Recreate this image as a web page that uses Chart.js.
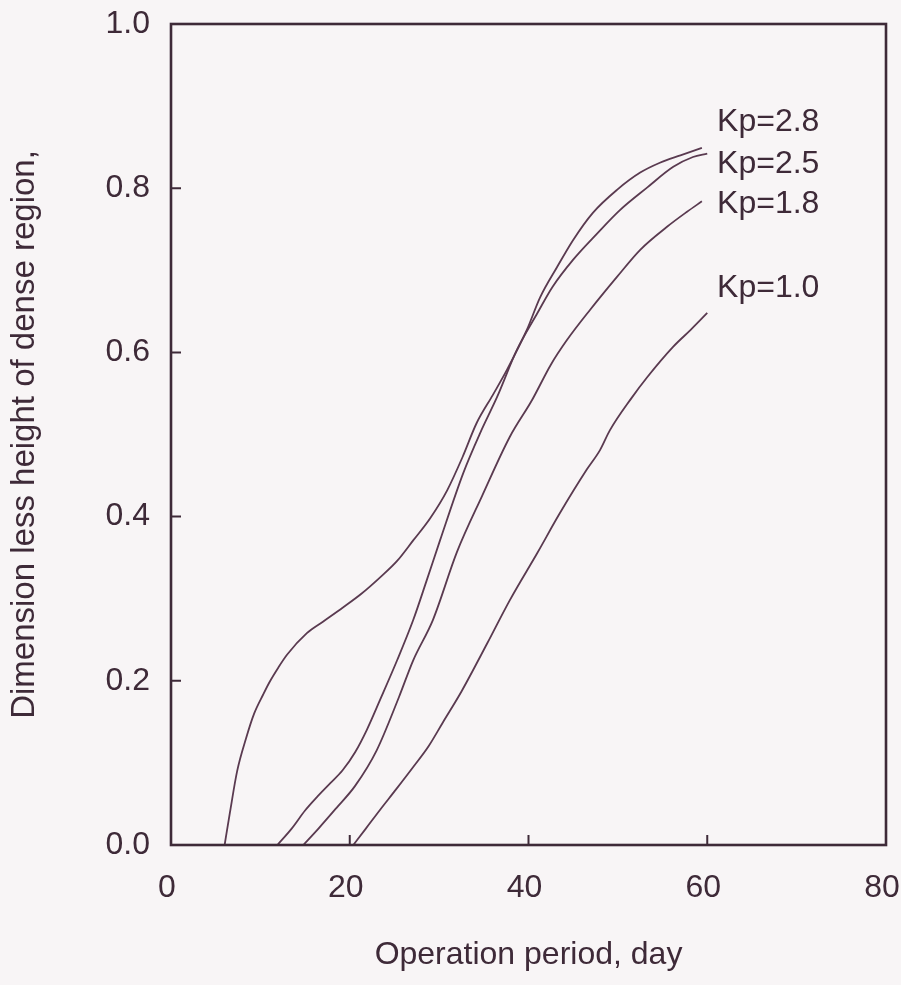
<!DOCTYPE html>
<html><head><meta charset="utf-8">
<script src="https://cdn.jsdelivr.net/npm/chart.js@4.4.1/dist/chart.umd.min.js"></script>
<style>
html,body{margin:0;padding:0;background:#f8f5f6;}
#wrap{width:901px;height:985px;position:relative;}
</style></head><body>
<div id="wrap"><canvas id="c" width="901" height="985"></canvas></div>
<script>
// ---- data ----
const seriesNames = ['Kp=2.8', 'Kp=2.5', 'Kp=1.8', 'Kp=1.0'];

const kp28Days   = [6.0, 6.6, 7.4, 8.4, 9.3, 10.3, 11.0, 12.0, 13.0, 15.2, 17.0, 19.2, 21.3, 23.4, 25.3, 27.1, 29.0, 30.9, 32.6, 34.2, 36.0, 37.6, 39.8, 41.3, 43.2, 45.0, 47.2, 49.9, 52.5, 54.7, 57.0, 59.4];
const kp28Height = [0, 0.04, 0.09, 0.13, 0.16, 0.183, 0.198, 0.216, 0.232, 0.258, 0.272, 0.289, 0.306, 0.326, 0.346, 0.371, 0.398, 0.432, 0.472, 0.514, 0.548, 0.579, 0.627, 0.667, 0.704, 0.737, 0.770, 0.798, 0.819, 0.831, 0.840, 0.849];

const kp25Days   = [11.9, 13.5, 15.0, 16.3, 17.8, 19.2, 20.6, 21.9, 23.4, 25.3, 27.1, 28.6, 30.1, 32.7, 34.6, 36.5, 38.7, 41.0, 42.7, 45.0, 47.7, 50.2, 53.3, 56.2, 58.4, 60.0];
const kp25Height = [0, 0.02, 0.042, 0.058, 0.075, 0.091, 0.113, 0.14, 0.177, 0.225, 0.274, 0.322, 0.371, 0.453, 0.502, 0.546, 0.603, 0.648, 0.680, 0.713, 0.745, 0.773, 0.801, 0.826, 0.838, 0.842];

const kp18Days   = [14.8, 16.5, 18.5, 20.6, 23.0, 25.5, 27.1, 29.3, 32.0, 34.8, 37.9, 40.4, 42.5, 44.3, 46.9, 49.9, 52.5, 55.5, 57.7, 59.4];
const kp18Height = [0, 0.02, 0.045, 0.072, 0.115, 0.18, 0.225, 0.274, 0.357, 0.425, 0.497, 0.542, 0.585, 0.615, 0.652, 0.692, 0.725, 0.753, 0.771, 0.784];

const kp10Days   = [20.4, 21.8, 23.4, 25.2, 27.1, 28.8, 30.4, 32.5, 35.4, 37.9, 41.0, 43.5, 46.5, 48.0, 49.1, 51.5, 53.3, 56.2, 58.2, 60.0];
const kp10Height = [0, 0.02, 0.043, 0.068, 0.095, 0.12, 0.149, 0.187, 0.246, 0.298, 0.356, 0.404, 0.457, 0.481, 0.505, 0.544, 0.570, 0.607, 0.628, 0.648];

const xTicks = [0, 20, 40, 60, 80];
const xTickLabels = ['0', '20', '40', '60', '80'];
const yTicks = [0, 0.2, 0.4, 0.6, 0.8, 1.0];
const yTickLabels = ['0.0', '0.2', '0.4', '0.6', '0.8', '1.0'];
const xTitle = 'Operation period, day';
const yTitle = 'Dimension less height of dense region,';

// ---- styling / layout ----
const INK = '#3e2a38';
const LINE = '#5a3a50';
const FONT = '"Liberation Sans", Arial, Helvetica, sans-serif';

const pts = (xs, ys) => xs.map((x, i) => ({x: x, y: ys[i]}));
const seriesX = [kp28Days, kp25Days, kp18Days, kp10Days];
const seriesY = [kp28Height, kp25Height, kp18Height, kp10Height];

const datasets = seriesNames.map((n, i) => ({
  label: n,
  data: pts(seriesX[i], seriesY[i]),
  borderColor: LINE,
  borderWidth: 1.8,
  pointRadius: 0,
  fill: false,
  showLine: true,
  cubicInterpolationMode: 'monotone'
}));

const bgPlugin = {
  id: 'bg',
  beforeDraw(chart) {
    const ctx = chart.ctx;
    ctx.save();
    ctx.fillStyle = '#f8f5f6';
    ctx.fillRect(0, 0, chart.width, chart.height);
    ctx.restore();
  }
};

const framePlugin = {
  id: 'frame',
  afterDatasetsDraw(chart) {
    const {ctx, chartArea: a, scales} = chart;
    ctx.save();
    ctx.strokeStyle = INK;
    ctx.lineWidth = 2.6;
    ctx.strokeRect(a.left, a.top, a.right - a.left, a.bottom - a.top);
    ctx.lineWidth = 2;
    const tl = 10;
    ctx.beginPath();
    xTicks.forEach(v => {
      const px = scales.x.getPixelForValue(v);
      if (px > a.left + 2 && px < a.right - 2) { ctx.moveTo(px, a.bottom); ctx.lineTo(px, a.bottom - tl); }
    });
    yTicks.forEach(v => {
      const py = scales.y.getPixelForValue(v);
      if (py > a.top + 2 && py < a.bottom - 2) { ctx.moveTo(a.left, py); ctx.lineTo(a.left + tl, py); }
    });
    ctx.stroke();
    ctx.restore();
  }
};

const labelPlugin = {
  id: 'seriesLabels',
  afterDatasetsDraw(chart, args, opts) {
    const {ctx, scales} = chart;
    ctx.save();
    ctx.fillStyle = INK;
    ctx.font = opts.font;
    ctx.textAlign = 'left';
    ctx.textBaseline = 'middle';
    seriesNames.forEach((n, i) => {
      ctx.fillText(n, scales.x.getPixelForValue(opts.anchorX), scales.y.getPixelForValue(opts.anchorY[i]));
    });
    ctx.restore();
  }
};

const yTitlePlugin = {
  id: 'yTitle',
  afterDraw(chart, args, opts) {
    const ctx = chart.ctx;
    const a = chart.chartArea;
    ctx.save();
    ctx.fillStyle = INK;
    ctx.font = opts.font;
    ctx.textAlign = 'center';
    ctx.textBaseline = 'middle';
    ctx.translate(opts.x, (a.top + a.bottom) / 2);
    ctx.rotate(-Math.PI / 2);
    ctx.fillText(yTitle, 0, 0);
    ctx.restore();
  }
};

new Chart(document.getElementById('c'), {
  type: 'scatter',
  data: {datasets: datasets},
  plugins: [bgPlugin, framePlugin, labelPlugin, yTitlePlugin],
  options: {
    responsive: false,
    animation: false,
    events: [],
    layout: {padding: {top: 24, right: 15, left: 0, bottom: 0}},
    plugins: {
      legend: {display: false},
      tooltip: {enabled: false},
      seriesLabels: {font: '32px ' + FONT, anchorX: 61.1, anchorY: [0.881, 0.829, 0.780, 0.678]},
      yTitle: {font: '33px ' + FONT, x: 25}
    },
    scales: {
      x: {
        type: 'linear', min: 0, max: 80,
        afterBuildTicks(s) { s.ticks = xTicks.map(v => ({value: v})); },
        afterFit(s) { s.height = 140; s.paddingLeft = 0; s.paddingRight = 0; },
        grid: {display: false, drawTicks: false},
        border: {display: false},
        ticks: {
          color: INK, font: {family: FONT, size: 32}, padding: 24, maxRotation: 0, autoSkip: false, labelOffset: -4,
          callback: (v) => xTickLabels[xTicks.indexOf(v)]
        },
        title: {display: true, text: xTitle, color: INK, font: {family: FONT, size: 32}, padding: {top: 0, bottom: 11}}
      },
      y: {
        type: 'linear', min: 0, max: 1,
        afterBuildTicks(s) { s.ticks = yTicks.map(v => ({value: v})); },
        afterFit(s) { s.width = 171; s.paddingTop = 0; s.paddingBottom = 0; },
        grid: {display: false, drawTicks: false},
        border: {display: false},
        ticks: {
          color: INK, font: {family: FONT, size: 32}, padding: 21, autoSkip: false,
          callback: (v) => yTickLabels[yTicks.indexOf(v)]
        }
      }
    }
  }
});
</script>
</body></html>
